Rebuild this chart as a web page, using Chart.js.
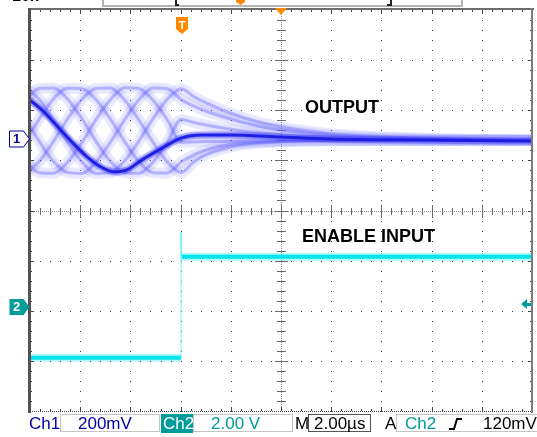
<!DOCTYPE html>
<html>
<head>
<meta charset="utf-8">
<script src="https://cdn.jsdelivr.net/npm/chart.js@4.4.1/dist/chart.umd.min.js"></script>
<style>
  body { margin: 0; background: #fff; }
  #scope { position: relative; width: 537px; height: 437px; overflow: hidden; font-family: "Liberation Sans", Arial, sans-serif; }
  #scope canvas { position: absolute; left: 0; top: 0; }
  .lab { position: absolute; white-space: nowrap; font-weight: bold; font-size: 18px; line-height: 18px; color: #000; }
  .mk { position: absolute; width: 15px; text-align: center; font-weight: bold; font-size: 13px; line-height: 14px; }
  .st { position: absolute; white-space: nowrap; font-size: 17px; line-height: 19px; top: 414px; }
  .box { position: absolute; top: 414px; height: 18px; border: 1px solid #c4c4c4; box-sizing: border-box; }
</style>
</head>
<body>
<div id="scope">
  <canvas id="chart" width="537" height="437"></canvas>
  <div class="lab" style="left:12px;top:-13px;font-size:16px">10k</div>
  <div class="lab" style="left:305px;top:98px">OUTPUT</div>
  <div class="lab" style="left:302px;top:227px">ENABLE INPUT</div>
  <div class="mk" id="mark1" style="color:#0000a0">1</div>
  <div class="mk" id="mark2" style="color:#fff">2</div>
  <div class="mk" id="markT" style="color:#fff;font-size:11px;width:12px">T</div>

  <!-- status bar -->
  <div class="box" style="left:60px;width:100px"></div>
  <div class="box" style="left:161px;width:32px;height:19px;border:none;background:#009c9c"></div>
  <div class="box" style="left:193px;width:100px"></div>
  <div class="box" style="left:308px;width:63px;border-color:#555"></div>
  <div class="box" style="left:396px;width:150px"></div>
  <div class="st" style="left:29px;color:#0000a0">Ch1</div>
  <div class="st" style="left:78px;color:#0000a0">200mV</div>
  <div class="st" style="left:163px;color:#fff">Ch2</div>
  <div class="st" style="left:211px;color:#009c9c">2.00 V</div>
  <div class="st" style="left:295px;color:#000">M</div>
  <div class="st" style="left:314px;color:#000">2.00µs</div>
  <div class="st" style="left:385px;color:#000">A</div>
  <div class="st" style="left:405px;color:#009c9c">Ch2</div>
  <div class="st" style="left:483px;color:#000">120mV</div>
</div>
<script>
// screen: 10 x 8 divisions
const X_MIN = -10, X_STEP = 2, X_DIVS = 10;   // µs, 2 µs/div
const Y_MIN = -4, Y_STEP = 1, Y_DIVS = 8;     // divisions

// channel settings
const CH1_MV_PER_DIV = 200;
const CH1_POS = 1.42;
const CH2_V_PER_DIV = 2;
const CH2_POS = -1.92;
const TRIGGER_TIME = -4;
const TRIGGER_LEVEL_V = 0.12;

// OUTPUT (Ch1) persistence traces, mV
const TRACE_TIME = [-10.2, -9.63, -9.07, -8.5, -7.93, -7.37, -6.8, -6.23, -5.67, -5.1, -4.53, -3.97,
                    -3.5, -3, -2, -1, 0, 1, 2, 4, 6, 8, 10.2];
const TRACE_1 = [206, 160, 78, -12, -90, -136, -132, -86, -8, 82, 160, 202,
                 172, 146, 104, 72, 50, 34, 22, 10, 3, -1, -3];
const TRACE_2 = [84, -8, -88, -132, -136, -90, -12, 78, 157, 205, 202, 158,
                 134, 113, 80, 55, 38, 25, 16, 6, 1, -2, -4];
const TRACE_3 = [-86, -133, -135, -91, -12, 79, 158, 206, 203, 156, 78, -12,
                 -11, -9, -8, -7, -6, -5, -5, -5, -4, -4, -4];
const TRACE_4 = [-135, -88, -9, 82, 160, 203, 205, 157, 78, -11, -90, -132,
                 -92, -62, -30, -16, -10, -7, -6, -5, -5, -4, -4];
const TRACE_5 = [-9, 81, 161, 204, 202, 158, 81, -9, -88, -133, -134, -90,
                 -63, -43, -21, -12, -8, -6, -5, -5, -5, -4, -4];
const TRACE_6 = [158, 203, 205, 160, 82, -8, -88, -133, -135, -91, -12, 79,
                 68, 57, 40, 27, 18, 11, 7, 2, -2, -3, -4];

// latest acquisition (dark trace), mV
const DARK_TIME = [-10.2, -9.48, -8.92, -8.33, -7.77, -7.25, -6.65, -6.14, -5.54, -4.74, -3.98, -3.15, -2, 0, 2, 6, 10.2];
const DARK_MV = [172, 113, 53, -11, -66, -106, -130, -122, -82, -35, 5, 17, 17, 9, 1, -3, -7];

// ENABLE INPUT (Ch2), V
const CH2_LOW_TIME = [-10.2, -3.98];
const CH2_LOW_V = [-2.04, -2.04];
const CH2_HIGH_TIME = [-3.97, 10.2];
const CH2_HIGH_V = [1.99, 1.99];
const CH2_EDGE_TIME = [-3.985, -3.98, -3.975];
const CH2_EDGE_V = [-2.04, 2.96, 1.99];

const ch1Div = mv => CH1_POS + mv / CH1_MV_PER_DIV;
const ch2Div = v => CH2_POS + v / CH2_V_PER_DIV;
const toPoints = (times, vals, conv) => times.map((t, i) => ({ x: t, y: conv(vals[i]) }));

const LIGHT_TRACES = [TRACE_1, TRACE_2, TRACE_3, TRACE_4, TRACE_5, TRACE_6];

const smooth = { cubicInterpolationMode: 'monotone' };
const datasets = [];
datasets.push({ ...smooth, data: toPoints(DARK_TIME, DARK_MV, ch1Div),
  borderColor: 'rgba(26,26,224,0.95)', borderWidth: 3, glow: 'rgba(70,70,255,0.8)' });
datasets.push({ ...smooth, data: toPoints(DARK_TIME, DARK_MV, ch1Div),
  borderColor: 'rgba(50,50,235,0.3)', borderWidth: 7 });
LIGHT_TRACES.forEach(tr => datasets.push({ ...smooth, data: toPoints(TRACE_TIME, tr, ch1Div),
  borderColor: 'rgba(80,80,250,0.33)', borderWidth: 3, glow: 'rgba(120,120,255,0.6)' }));
LIGHT_TRACES.forEach(tr => datasets.push({ ...smooth, data: toPoints(TRACE_TIME, tr, ch1Div),
  borderColor: 'rgba(135,135,255,0.16)', borderWidth: 11 }));
datasets.push({ data: toPoints(CH2_EDGE_TIME, CH2_EDGE_V, ch2Div), borderColor: 'rgba(110,238,248,0.9)', borderWidth: 1 });
[[CH2_LOW_TIME, CH2_LOW_V], [CH2_HIGH_TIME, CH2_HIGH_V]].forEach(([t, v]) => {
  datasets.push({ data: toPoints(t, v, ch2Div), borderColor: '#00e4ee', borderWidth: 4 });
  datasets.push({ data: toPoints(t, v, ch2Div), borderColor: 'rgba(0,228,238,0.3)', borderWidth: 8 });
});

// soft edge like the scope's persistence
const glowPlugin = {
  id: 'glow',
  beforeDatasetDraw(chart, args) {
    const ds = chart.data.datasets[args.index];
    if (!ds.glow) return;
    chart.ctx.save();
    chart.ctx.shadowColor = ds.glow;
    chart.ctx.shadowBlur = 4;
  },
  afterDatasetDraw(chart, args) {
    if (chart.data.datasets[args.index].glow) chart.ctx.restore();
  }
};

// graticule, frame and the scope's markers
const scopeFrame = {
  id: 'scopeFrame',
  beforeDatasetsDraw(chart) {
    const { ctx, chartArea: a, scales: { x, y } } = chart;
    const px = v => Math.round(x.getPixelForValue(v));
    const py = v => Math.round(y.getPixelForValue(v));
    ctx.save();
    ctx.fillStyle = '#3a3a3a';
    for (let i = 1; i < X_DIVS; i++) {
      if (i === X_DIVS / 2) continue;
      const gx = px(X_MIN + i * X_STEP);
      for (let k = 0; k <= Y_DIVS * 5; k++) ctx.fillRect(gx, py(Y_MIN + k * Y_STEP / 5), 1, 1);
    }
    for (let j = 1; j < Y_DIVS; j++) {
      if (j === Y_DIVS / 2) continue;
      const gy = py(Y_MIN + j * Y_STEP);
      for (let k = 0; k <= X_DIVS * 5; k++) ctx.fillRect(px(X_MIN + k * X_STEP / 5), gy, 1, 1);
    }
    const cx = px(0), cy = py(0);
    ctx.fillStyle = '#8c8c8c';
    for (let yy = a.top; yy < a.bottom; yy += 2) ctx.fillRect(cx, yy, 1, 1);
    for (let xx = a.left; xx < a.right; xx += 2) ctx.fillRect(xx, cy, 1, 1);
    ctx.fillStyle = '#6a6a6a';
    for (let k = 1; k < Y_DIVS * 5; k++) {
      const w = k % 5 === 0 ? 6 : 4;
      ctx.fillRect(cx - w, py(Y_MIN + k * Y_STEP / 5), 2 * w + 1, 1);
    }
    for (let k = 1; k < X_DIVS * 5; k++) {
      const h = k % 5 === 0 ? 6 : 3;
      ctx.fillRect(px(X_MIN + k * X_STEP / 5), cy - h, 1, 2 * h + 1);
    }
    ctx.restore();
  },
  afterDraw(chart) {
    const { ctx, chartArea: a, scales: { x, y } } = chart;
    const px = v => Math.round(x.getPixelForValue(v));
    const py = v => Math.round(y.getPixelForValue(v));
    const w = a.right - a.left, h = a.bottom - a.top;
    ctx.save();
    // edge ticks
    ctx.fillStyle = '#444';
    for (let k = 1; k < X_DIVS * 5; k++) {
      const len = k % 5 === 0 ? 4 : 2, tx = px(X_MIN + k * X_STEP / 5);
      ctx.fillRect(tx, a.top, 1, len);
      ctx.fillRect(tx, a.bottom - len, 1, len);
    }
    for (let k = 1; k < Y_DIVS * 5; k++) {
      const len = k % 5 === 0 ? 4 : 2, ty = py(Y_MIN + k * Y_STEP / 5);
      ctx.fillRect(a.left, ty, len, 1);
      ctx.fillRect(a.right - len, ty, len, 1);
    }
    // frame
    ctx.fillStyle = '#6e6e6e';
    ctx.fillRect(a.left - 2, a.top - 2, w + 4, 2);
    ctx.fillStyle = '#525252';
    ctx.fillRect(a.left - 2, a.top - 2, 3, h + 4);
    ctx.fillStyle = '#7c7c7c';
    ctx.fillRect(a.right - 1, a.top - 2, 2, h + 4);
    ctx.fillStyle = '#404040';
    for (let xx = a.left; xx < a.right; xx += 2) ctx.fillRect(xx, a.bottom, 1, 1);

    // record bar above the screen
    ctx.fillStyle = '#b4b4b4';
    ctx.fillRect(102, 5, 361, 2);
    ctx.fillRect(102, 0, 2, 7);
    ctx.fillRect(461, 0, 2, 7);
    ctx.fillStyle = '#222';
    ctx.fillRect(175, 0, 2, 6); ctx.fillRect(175, 4, 4, 2);
    ctx.fillRect(390, 0, 2, 6); ctx.fillRect(387, 4, 4, 2);
    ctx.fillStyle = '#ff8a00';
    ctx.beginPath(); ctx.moveTo(236, 0); ctx.lineTo(245, 0); ctx.lineTo(245, 2); ctx.lineTo(240.5, 5); ctx.lineTo(236, 2); ctx.fill();

    // trigger position markers
    const tx = px(TRIGGER_TIME) + 1;
    ctx.beginPath();
    ctx.moveTo(tx - 6, 17); ctx.lineTo(tx + 6, 17); ctx.lineTo(tx + 6, 29); ctx.lineTo(tx, 34); ctx.lineTo(tx - 6, 29);
    ctx.closePath(); ctx.fill();
    const cx = px(0);
    ctx.beginPath();
    ctx.moveTo(cx - 6, a.top - 2); ctx.lineTo(cx + 6, a.top - 2); ctx.lineTo(cx, a.top + 5);
    ctx.closePath(); ctx.fill();

    // channel ground markers
    const m1 = py(CH1_POS), m2 = py(CH2_POS);
    const tag = (ym) => {
      ctx.beginPath();
      ctx.moveTo(9.5, ym - 8); ctx.lineTo(23.5, ym - 8); ctx.lineTo(29.5, ym); ctx.lineTo(23.5, ym + 8); ctx.lineTo(9.5, ym + 8);
      ctx.closePath();
    };
    tag(m1);
    ctx.fillStyle = '#fff'; ctx.fill();
    ctx.strokeStyle = '#0000a0'; ctx.lineWidth = 1; ctx.stroke();
    tag(m2);
    ctx.fillStyle = '#009c9c'; ctx.fill();

    // trigger level arrow
    const tl = py(ch2Div(TRIGGER_LEVEL_V));
    ctx.beginPath();
    ctx.moveTo(a.right - 11, tl); ctx.lineTo(a.right - 5, tl - 5); ctx.lineTo(a.right - 5, tl + 5);
    ctx.closePath(); ctx.fill();
    ctx.fillRect(a.right - 5, tl - 1, 4, 3);

    // rising-edge symbol in status bar
    ctx.strokeStyle = '#000'; ctx.lineWidth = 2;
    ctx.beginPath();
    ctx.moveTo(449, 429); ctx.lineTo(454, 429); ctx.lineTo(457, 419); ctx.lineTo(462, 419);
    ctx.stroke();
    ctx.restore();

    document.getElementById('mark1').style.cssText += `left:9px;top:${m1 - 7}px`;
    document.getElementById('mark2').style.cssText += `left:9px;top:${m2 - 7}px`;
    document.getElementById('markT').style.cssText += `left:${tx - 6}px;top:18px`;
  }
};

new Chart(document.getElementById('chart'), {
  type: 'line',
  data: { datasets },
  options: {
    responsive: false,
    animation: false,
    devicePixelRatio: 1,
    layout: { padding: { left: 30, right: 5, top: 10, bottom: 26 } },
    elements: { point: { radius: 0 }, line: { fill: false } },
    datasets: { line: { clip: 0 } },
    plugins: { legend: { display: false }, tooltip: { enabled: false } },
    scales: {
      x: { type: 'linear', min: X_MIN, max: X_MIN + X_DIVS * X_STEP, display: false },
      y: { type: 'linear', min: Y_MIN, max: Y_MIN + Y_DIVS * Y_STEP, display: false }
    }
  },
  plugins: [scopeFrame, glowPlugin]
});
</script>
</body>
</html>
